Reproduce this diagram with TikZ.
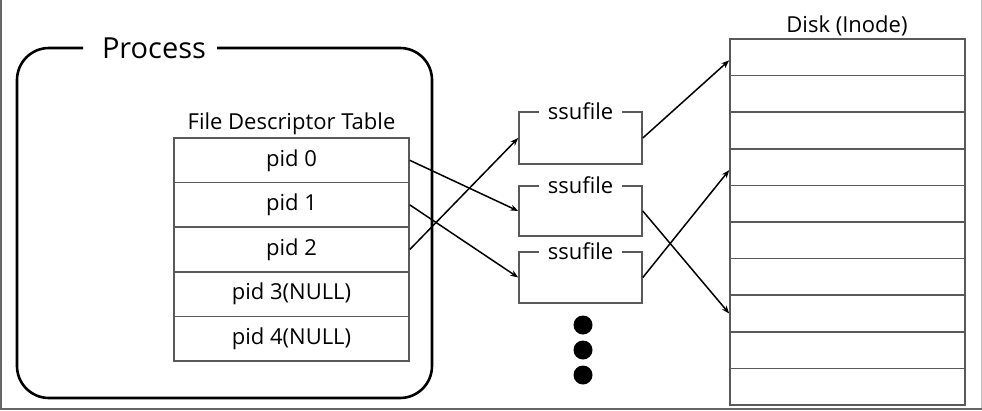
\documentclass[tikz,border=0pt]{standalone}
\usepackage{fontspec}
\setmainfont{Open Sans}
\usetikzlibrary{arrows.meta,calc}
\begin{document}
\begin{tikzpicture}[x=1pt,y=-1pt,
  txt/.style={font=\fontsize{22}{22}\selectfont, text=black},
  cell/.style={draw=black!65, line width=1.6pt, minimum width=235pt, minimum height=44.6pt, inner sep=0pt, txt},
  dcell/.style={draw=black!65, line width=1.6pt, minimum width=235pt, minimum height=36.6pt, inner sep=0pt},
  fbox/.style={draw=black!65, line width=1.6pt, minimum width=123pt, inner sep=0pt},
  flabel/.style={txt, fill=white, inner xsep=9pt, inner ysep=0pt},
  conn/.style={line width=1.5pt, -{Stealth[length=8pt,width=6pt]}},
  dot/.style={circle, fill=black, minimum size=19pt, inner sep=0pt}]
\useasboundingbox (0,0) rectangle (982,410);
% outer frame
\draw[black!60, line width=1.5pt] (0.75,0) -- (0.75,408.8) -- (982,408.8);
\draw[black!25, line width=0.8pt] (981.3,0) -- (981.3,408);
% process box
\draw[line width=2.6pt, rounded corners=32pt] (83,48) -- (17,48) -- (17,398) -- (432,398) -- (432,48) -- (217,48);
\node[anchor=base, font=\fontsize{29}{29}\selectfont, inner sep=0pt] (proc) at (154,58) {Process};
% FD table
\node[txt, anchor=base, inner sep=0pt] (fdt) at (291.5,129) {File Descriptor Table};
\node[cell] (p0) at (291.5,160.3) {pid 0};
\node[cell] (p1) at (291.5,204.9) {pid 1};
\node[cell] (p2) at (291.5,249.5) {pid 2};
\node[cell] (p3) at (291.5,294.1) {pid 3(NULL)};
\node[cell] (p4) at (291.5,338.7) {pid 4(NULL)};
% ssufile boxes
\node[fbox, minimum height=52pt] (f1) at (580.5,138) {};
\node[fbox, minimum height=50pt] (f2) at (580.5,211) {};
\node[fbox, minimum height=51pt] (f3) at (580.5,277.5) {};
\node[flabel] (l1) at (f1.north) {ssufile};
\node[flabel] (l2) at (f2.north) {ssufile};
\node[flabel] (l3) at (f3.north) {ssufile};
% dots
\node[dot] (dA) at (583,325) {};
\node[dot] (dB) at (583,350) {};
\node[dot] (dC) at (583,375) {};
% disk
\node[txt, anchor=base, inner sep=0pt] (disk) at (847,32) {Disk (Inode)};
\foreach \i in {1,...,10} {
  \node[dcell] (d\i) at (847.5,{39+36.6*(\i-0.5)}) {};
}
% connectors
\draw[conn] (p0.east) -- (f2.west);
\draw[conn] (p1.east) -- (f3.west);
\draw[conn] (p2.east) -- (f1.west);
\draw[conn] (f1.east) -- ($(d1.west)+(0,3)$);
\draw[conn] (f2.east) -- (d8.west);
\draw[conn] (f3.east) -- ($(d4.west)+(0,3)$);
\end{tikzpicture}
\end{document}
